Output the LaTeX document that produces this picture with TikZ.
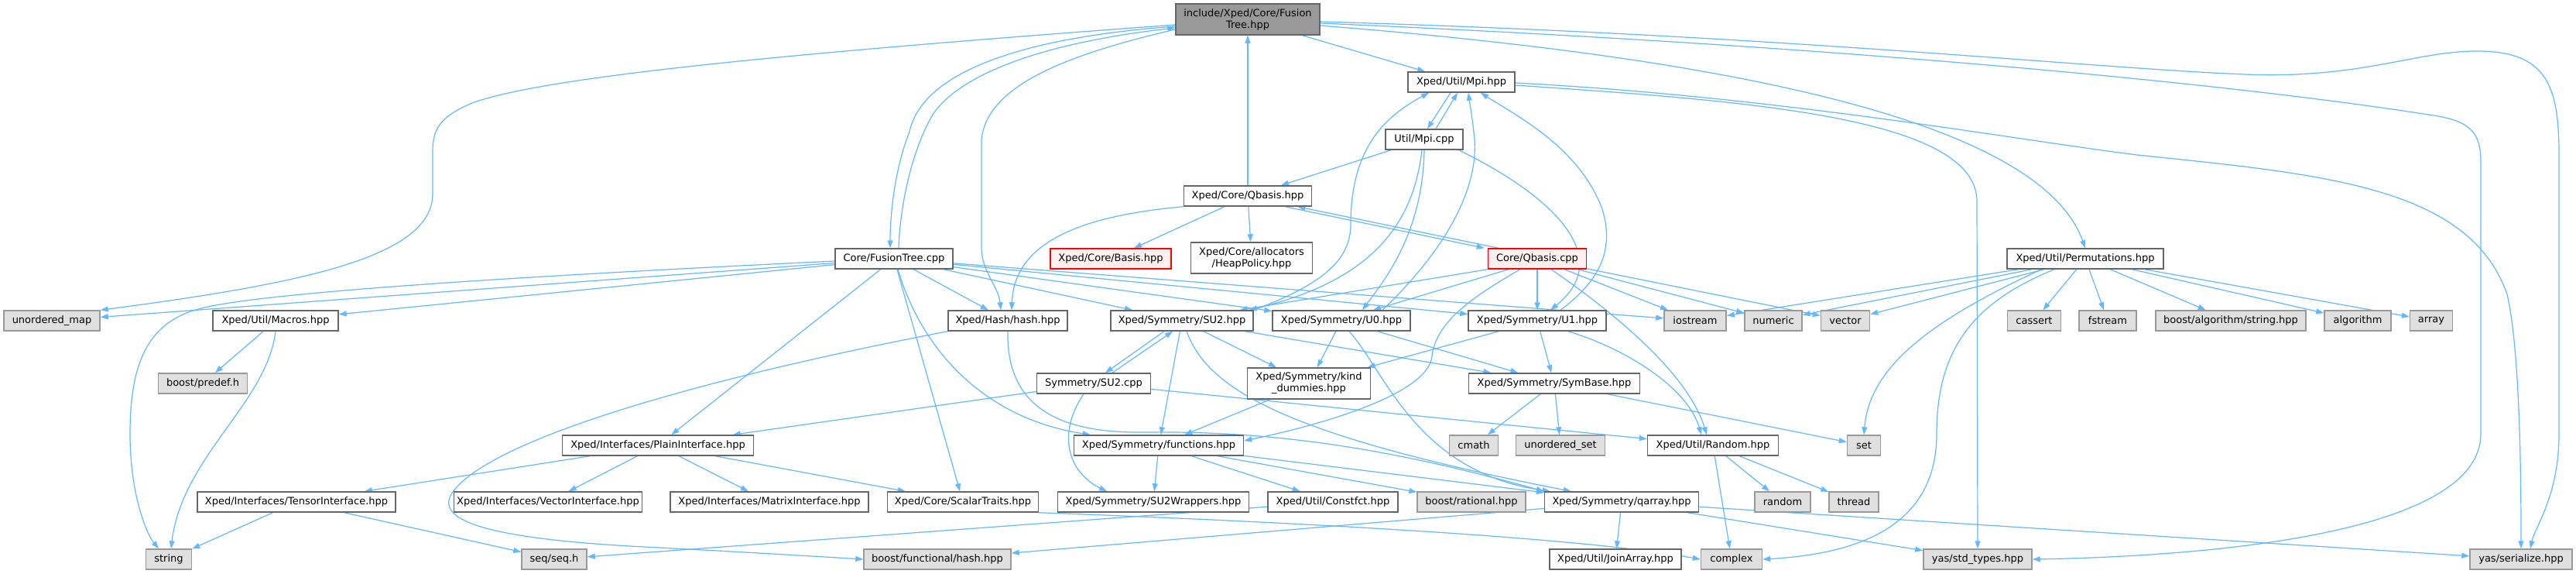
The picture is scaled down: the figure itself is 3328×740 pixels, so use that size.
\documentclass[tikz,border=0pt]{standalone}
\usepackage{fontspec}
\setmainfont{DejaVu Sans}
\usetikzlibrary{arrows.meta,calc}
\pgfdeclarelayer{back}
\pgfdeclarelayer{edges}
\pgfsetlayers{back,edges,main}
\newcommand{\nfnt}{\fontsize{13pt}{15pt}\selectfont}
\definecolor{edgec}{HTML}{63B8FF}
\definecolor{bordc}{HTML}{666666}
\definecolor{sysb}{HTML}{999999}
\definecolor{sysf}{HTML}{E0E0E0}
\definecolor{rootf}{HTML}{999999}
\definecolor{redf}{HTML}{FFF0F0}
\tikzset{
 nbox/.style={draw=bordc, fill=white, line width=1.5pt, inner sep=0pt, align=center, font=\nfnt, minimum height=26pt},
 sbox/.style={nbox, draw=sysb, fill=sysf},
 rbox/.style={nbox, draw=red, fill=redf},
 rootbox/.style={nbox, fill=rootf, minimum height=40pt},
 tall/.style={minimum height=40pt},
 edg/.style={draw=edgec, line width=1.2pt, -{Triangle[length=10pt,width=7pt]}},
}
\begin{document}
\begin{tikzpicture}[x=1pt,y=-1pt]
\begin{pgfonlayer}{back}
\fill[white] (0,0) rectangle (3328,740);
\end{pgfonlayer}
\useasboundingbox (0,0) rectangle (3328,740);

% ---------- nodes ----------
\node[rootbox, minimum width=186pt] (fth) at (1612,25) {include/Xped/Core/Fusion\\Tree.hpp};
\node[nbox, minimum width=138pt] (mpih) at (1888,106) {Xped/Util/Mpi.hpp};
\node[nbox, minimum width=100pt] (mpic) at (1840,180) {Util/Mpi.cpp};
\node[nbox, minimum width=165pt] (qbh) at (1612,253) {Xped/Core/Qbasis.hpp};
\node[nbox, minimum width=152pt] (ftc) at (1155,334) {Core/FusionTree.cpp};
\node[rbox, minimum width=156pt] (basis) at (1435,334) {Xped/Core/Basis.hpp};
\node[nbox, tall, minimum width=157pt] (heap) at (1617,333) {Xped/Core/allocators\\/HeapPolicy.hpp};
\node[rbox, minimum width=127pt] (qbc) at (1986,334) {Core/Qbasis.cpp};
\node[nbox, minimum width=202pt] (perm) at (2694,334) {Xped/Util/Permutations.hpp};
\node[sbox, minimum width=124pt] (umap) at (67,414) {unordered\_map};
\node[nbox, minimum width=162pt] (macros) at (356,414) {Xped/Util/Macros.hpp};
\node[nbox, minimum width=154pt] (hash) at (1302,414) {Xped/Hash/hash.hpp};
\node[nbox, minimum width=184pt] (su2h) at (1527,414) {Xped/Symmetry/SU2.hpp};
\node[nbox, minimum width=178pt] (u0h) at (1733,414) {Xped/Symmetry/U0.hpp};
\node[nbox, minimum width=178pt] (u1h) at (1986,414) {Xped/Symmetry/U1.hpp};
\node[sbox, minimum width=80pt] (iostream) at (2190,414) {iostream};
\node[sbox, minimum width=74pt] (numeric) at (2291,414) {numeric};
\node[sbox, minimum width=63pt] (vector) at (2384,414) {vector};
\node[sbox, minimum width=69pt] (cassert) at (2628,414) {cassert};
\node[sbox, minimum width=74pt] (fstream) at (2723,414) {fstream};
\node[sbox, minimum width=194pt] (balg) at (2882,414) {boost/algorithm/string.hpp};
\node[sbox, minimum width=86pt] (algorithm) at (3046,414) {algorithm};
\node[sbox, minimum width=55pt] (array) at (3141,414) {array};
\node[sbox, minimum width=115pt] (predef) at (262,495) {boost/predef.h};
\node[nbox, minimum width=147pt] (su2c) at (1413,495) {Symmetry/SU2.cpp};
\node[nbox, tall, minimum width=159pt] (kind) at (1691,495) {Xped/Symmetry/kind\\\_dummies.hpp};
\node[nbox, minimum width=221pt] (symbase) at (2008,495) {Xped/Symmetry/SymBase.hpp};
\node[nbox, minimum width=247pt] (plain) at (850,575) {Xped/Interfaces/PlainInterface.hpp};
\node[nbox, minimum width=219pt] (functions) at (1497,575) {Xped/Symmetry/functions.hpp};
\node[sbox, minimum width=63pt] (cmath) at (1904,575) {cmath};
\node[sbox, minimum width=115pt] (uset) at (2016,575) {unordered\_set};
\node[nbox, minimum width=169pt] (randh) at (2213,575) {Xped/Util/Random.hpp};
\node[sbox, minimum width=43pt] (set) at (2408,575) {set};
\node[nbox, minimum width=256pt] (tensor) at (383,648) {Xped/Interfaces/TensorInterface.hpp};
\node[nbox, minimum width=243pt] (vecI) at (708,648) {Xped/Interfaces/VectorInterface.hpp};
\node[nbox, minimum width=256pt] (matI) at (994,648) {Xped/Interfaces/MatrixInterface.hpp};
\node[nbox, minimum width=195pt] (scalar) at (1244,648) {Xped/Core/ScalarTraits.hpp};
\node[nbox, minimum width=247pt] (su2w) at (1490,648) {Xped/Symmetry/SU2Wrappers.hpp};
\node[nbox, minimum width=168pt] (constfct) at (1722,648) {Xped/Util/Constfct.hpp};
\node[sbox, minimum width=140pt] (rational) at (1901,648) {boost/rational.hpp};
\node[nbox, minimum width=199pt] (qarray) at (2095,648) {Xped/Symmetry/qarray.hpp};
\node[sbox, minimum width=72pt] (randstd) at (2303,648) {random};
\node[sbox, minimum width=64pt] (thread) at (2395,648) {thread};
\node[sbox, minimum width=59pt] (string) at (218,722) {string};
\node[sbox, minimum width=84pt] (seq) at (716,722) {seq/seq.h};
\node[sbox, minimum width=190pt] (bfhash) at (1211,722) {boost/functional/hash.hpp};
\node[nbox, minimum width=170pt] (join) at (2087,722) {Xped/Util/JoinArray.hpp};
\node[sbox, minimum width=79pt] (complex) at (2237,722) {complex};
\node[sbox, minimum width=140pt] (stdtypes) at (2555,722) {yas/std\_types.hpp};
\node[sbox, minimum width=132pt] (serialize) at (3257,722) {yas/serialize.hpp};

% ---------- edges ----------
\begin{pgfonlayer}{edges}
% root
\draw[edg] ($(fth.west)+(0,7)$) .. controls (1000,70) and (700,100) .. (610,133) .. controls (570,150) and (559,165) .. (559,195) -- (559,250) .. controls (559,330) and (400,365) .. (umap.north east);
\draw[edg] ($(fth.west)+(0,9)$) .. controls (1300,50) and (1190,100) .. (1175,170) .. controls (1155,220) and (1150,280) .. ($(ftc.north)+(-5,0)$);
\draw[edg] ($(ftc.north)+(6,0)$) .. controls (1163,260) and (1180,190) .. (1205,148) .. controls (1240,95) and (1350,55) .. ($(fth.west)+(0,11)$);
\draw[edg] ($(fth.west)+(0,13)$) .. controls (1380,70) and (1275,110) .. (1268,180) -- (1268,320) .. controls (1268,350) and (1290,370) .. ($(hash.north)+(-9,0)$);
\draw[edg] (qbh) -- (fth);
\draw[edg] (fth) -- (mpih);
\draw[edg] ($(fth.east)+(0,8)$) .. controls (2300,80) and (2640,170) .. (perm.north);
\draw[edg] ($(fth.east)+(0,3)$) .. controls (2300,45) and (2700,88) .. (2900,96) .. controls (3050,102) and (3120,66) .. (3200,66) .. controls (3290,66) and (3306,110) .. (3306,200) -- (3306,560) .. controls (3306,640) and (3275,680) .. ($(serialize.north)+(12,0)$);
\draw[edg] ($(fth.east)+(0,5)$) .. controls (2400,60) and (2900,110) .. (3150,150) .. controls (3195,158) and (3205,175) .. (3205,210) -- (3205,560) .. controls (3205,690) and (2850,718) .. (stdtypes.east);
% Mpi
\draw[edg] ($(mpih.south)+(-14,0)$) -- ($(mpic.north)+(4,0)$);
\draw[edg] ($(mpic.north)+(15,0)$) -- ($(mpih.south)+(-5,0)$);
\draw[edg] ($(mpih.east)+(0,1)$) .. controls (2300,125) and (2600,180) .. (2761,200) .. controls (3000,225) and (3190,240) .. (3239,380) .. controls (3255,450) and (3257,600) .. (serialize.north);
\draw[edg] ($(mpih.east)+(0,4)$) .. controls (2250,130) and (2554,150) .. (2554,260) -- (stdtypes.north);
\draw[edg] (mpic) -- (qbh);
\draw[edg] ($(mpic.south)+(-3,0)$) .. controls (1825,300) and (1760,365) .. ($(su2h.north east)+(-6,0)$);
\draw[edg] (mpic.south) .. controls (1838,300) and (1790,360) .. ($(u0h.north)+(27,0)$);
\draw[edg] ($(mpic.south east)+(-6,0)$) .. controls (2000,250) and (2090,330) .. ($(u1h.north)+(17,0)$);
\draw[edg] (su2h.north east) .. controls (1700,370) and (1745,340) .. (1745,290) .. controls (1745,190) and (1790,150) .. ($(mpih.south)+(-42,0)$);
\draw[edg] ($(u0h.north)+(53,0)$) .. controls (1860,330) and (1910,250) .. (1905,180) .. controls (1902,150) and (1899,135) .. ($(mpih.south)+(9,0)$);
\draw[edg] ($(u1h.north)+(30,0)$) .. controls (2070,360) and (2085,320) .. (2070,270) .. controls (2040,190) and (1960,150) .. ($(mpih.south)+(25,0)$);
% Qbasis
\draw[edg] (qbh) -- (basis);
\draw[edg] (qbh) -- (heap);
\draw[edg] (qbh.south west) .. controls (1380,280) and (1310,320) .. ($(hash.north)+(5,0)$);
\draw[edg] ($(qbh.south east)+(-35,0)$) -- ($(qbc.north west)+(-4,0)$);
\draw[edg] ($(qbc.north west)+(14,0)$) -- ($(qbh.south east)+(-19,0)$);
\draw[edg] (qbc.south west) -- ($(su2h.north east)+(-18,0)$);
\draw[edg] ($(qbc.south west)+(27,0)$) -- ($(u0h.north)+(41,0)$);
\draw[edg] ($(qbc.south)+(-22,0)$) .. controls (1890,390) and (1855,420) .. (1850,460) .. controls (1845,510) and (1700,550) .. ($(functions.east)+(0,-6)$);
\draw[edg] (qbc) -- (u1h);
\draw[edg] ($(qbc.south)+(18,0)$) .. controls (2080,400) and (2180,480) .. ($(randh.north)+(-8,0)$);
\draw[edg] (qbc) -- (iostream);
\draw[edg] (qbc) -- (numeric);
\draw[edg] (qbc) -- (vector);
% FusionTree.cpp
\draw[edg] (ftc) -- (umap);
\draw[edg] ($(ftc.west)+(0,3)$) .. controls (600,360) and (330,380) .. (260,398) .. controls (190,415) and (168,470) .. (168,560) .. controls (168,640) and (190,690) .. ($(string.north)+(-13,0)$);
\draw[edg] (ftc) -- (macros);
\draw[edg] (ftc) -- (plain);
\draw[edg] (ftc) -- (scalar);
\draw[edg] ($(ftc.south)+(5,0)$) .. controls (1190,450) and (1270,540) .. ($(functions.north west)+(22,0)$);
\draw[edg] (ftc) -- (hash);
\draw[edg] (ftc) -- (su2h);
\draw[edg] (ftc) -- (u0h);
\draw[edg] (ftc) -- (u1h);
\draw[edg] (ftc) -- (iostream);
% SU2
\draw[edg] ($(su2h.south)+(-23,0)$) -- ($(su2c.north)+(15,0)$);
\draw[edg] ($(su2c.north)+(24,0)$) -- ($(su2h.south)+(-12,0)$);
\draw[edg] (su2h) -- (functions);
\draw[edg] (su2h) -- (kind);
\draw[edg] ($(su2h.south)+(6,0)$) .. controls (1560,500) and (1650,560) .. ($(qarray.north west)+(35,0)$);
\draw[edg] (su2h) -- (symbase);
% U0 / U1
\draw[edg] (u0h) -- (kind);
\draw[edg] ($(u0h.south)+(10,0)$) .. controls (1790,480) and (1830,610) .. ($(qarray.north west)+(8,0)$);
\draw[edg] (u0h) -- (symbase);
\draw[edg] (u1h) -- (kind);
\draw[edg] (u1h) -- (symbase);
\draw[edg] ($(u1h.south)+(40,0)$) .. controls (2100,450) and (2180,500) .. ($(randh.north)+(-15,0)$);
% SU2.cpp
\draw[edg] (su2c) -- (plain);
\draw[edg] ($(su2c.south)+(-13,0)$) .. controls (1365,560) and (1380,610) .. ($(su2w.north)+(-60,0)$);
\draw[edg] (su2c) -- (randh);
\draw[edg] (kind) -- (functions);
% hash
\draw[edg] (hash.south) .. controls (1300,520) and (1360,560) .. (1480,558) .. controls (1650,556) and (1800,580) .. (qarray.north west);
\draw[edg] (hash.south west) .. controls (950,480) and (640,560) .. (585,635) .. controls (560,670) and (620,695) .. (832,706) .. controls (950,712) and (1050,718) .. (bfhash.west);
% functions
\draw[edg] (functions) -- (su2w);
\draw[edg] (functions) -- (constfct);
\draw[edg] (functions) -- (rational);
\draw[edg] (functions) -- (qarray);
% SymBase, Random, qarray
\draw[edg] (symbase) -- (cmath);
\draw[edg] (symbase) -- (uset);
\draw[edg] (symbase) -- (set);
\draw[edg] (randh) -- (randstd);
\draw[edg] (randh) -- (thread);
\draw[edg] (randh) -- (complex);
\draw[edg] (qarray) -- (join);
\draw[edg] (qarray) -- (bfhash);
\draw[edg] (qarray) -- (serialize);
\draw[edg] (qarray) -- (stdtypes);
\draw[edg] (constfct) -- (seq);
\draw[edg] (scalar.south east) .. controls (1700,675) and (2050,695) .. (complex.west);
% interfaces
\draw[edg] (plain) -- (tensor);
\draw[edg] (plain) -- (vecI);
\draw[edg] (plain) -- (matI);
\draw[edg] (plain) -- (scalar);
\draw[edg] (tensor) -- (string);
\draw[edg] (tensor) -- (seq);
% macros
\draw[edg] (macros) -- (predef);
\draw[edg] (macros.south) .. controls (345,520) and (235,590) .. ($(string.north)+(3,0)$);
% permutations
\draw[edg] (perm) -- (iostream);
\draw[edg] (perm) -- (numeric);
\draw[edg] (perm) -- (vector);
\draw[edg] ($(perm.south west)+(45,0)$) .. controls (2480,420) and (2415,480) .. (set.north);
\draw[edg] ($(perm.south)+(-40,0)$) .. controls (2550,390) and (2502,450) .. (2502,560) .. controls (2502,680) and (2400,715) .. (complex.east);
\draw[edg] (perm) -- (cassert);
\draw[edg] (perm) -- (fstream);
\draw[edg] (perm) -- (balg);
\draw[edg] (perm) -- (algorithm);
\draw[edg] (perm) -- (array);
\end{pgfonlayer}
\end{tikzpicture}
\end{document}
